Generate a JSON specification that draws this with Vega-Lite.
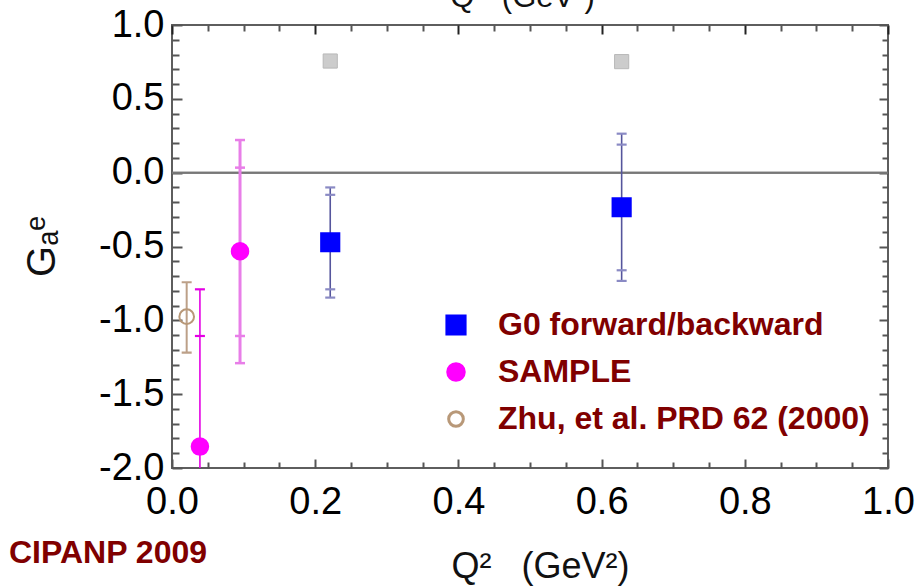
{
  "$schema": "https://vega.github.io/schema/vega-lite/v6.json",
  "width": 716,
  "height": 443,
  "autosize": {"type": "none"},
  "padding": {"left": 172, "top": 25, "right": 32, "bottom": 120},
  "background": "white",
  "config": {
    "view": {"stroke": "#5e5e5e", "strokeWidth": 2},
    "font": "Liberation Sans",
    "axis": {"labelFont": "Liberation Sans", "titleFont": "Liberation Sans", "grid": false, "domain": false}
  },
  "title": {
    "text": "CIPANP 2009",
    "orient": "bottom",
    "anchor": "start",
    "frame": "group",
    "color": "#800000",
    "fontSize": 32,
    "fontWeight": "bold",
    "font": "Liberation Sans",
    "dx": -163,
    "offset": -46
  },
  "datasets": {
    "pts": [
      {"id": "G0-1", "series": "G0 forward/backward", "q2": 0.221, "val": -0.471, "lo_out": -0.846, "lo_in": -0.79, "hi_in": -0.15, "hi_out": -0.10},
      {"id": "G0-2", "series": "G0 forward/backward", "q2": 0.628, "val": -0.234, "lo_out": -0.733, "lo_in": -0.661, "hi_in": 0.19, "hi_out": 0.264},
      {"id": "S-1", "series": "SAMPLE", "q2": 0.039, "val": -1.855, "lo_out": -2.05, "lo_in": null, "hi_in": -1.106, "hi_out": -0.79},
      {"id": "S-2", "series": "SAMPLE", "q2": 0.095, "val": -0.532, "lo_out": -1.29, "lo_in": -1.106, "hi_in": 0.034, "hi_out": 0.221},
      {"id": "Z-1", "series": "Zhu, et al. PRD 62 (2000)", "q2": 0.0205, "val": -0.975, "lo_out": -1.219, "lo_in": null, "hi_in": null, "hi_out": -0.742}
    ],
    "gray": [
      {"q2": 0.221, "val": 0.756},
      {"q2": 0.628, "val": 0.752}
    ]
  },
  "resolve": {"axis": {"x": "independent", "y": "independent"}},
  "layer": [
    {
      "data": {"name": "gray"},
      "mark": {"type": "rule", "color": "#777777", "strokeWidth": 2},
      "encoding": {
        "y": {"datum": 0, "type": "quantitative", "scale": {"domain": [-2, 1], "nice": false, "zero": false}, "axis": null}
      }
    },
    {
      "data": {"name": "pts"},
      "transform": [{"filter": "datum.id === 'G0-1' || datum.id === 'G0-2'"}],
      "mark": {"type": "rule", "color": "#55559c", "strokeWidth": 1.6, "clip": true},
      "encoding": {
        "x": {"field": "q2", "type": "quantitative", "scale": {"domain": [0, 1], "nice": false, "zero": false}, "axis": null},
        "y": {"field": "lo_out", "type": "quantitative", "scale": {"domain": [-2, 1], "nice": false, "zero": false}, "axis": null},
        "y2": {"field": "hi_out"}
      }
    },
    {
      "data": {"name": "pts"},
      "transform": [{"filter": "datum.id === 'S-1'"}],
      "mark": {"type": "rule", "color": "#e400e4", "strokeWidth": 1.6, "clip": true},
      "encoding": {
        "x": {"field": "q2", "type": "quantitative", "scale": {"domain": [0, 1], "nice": false, "zero": false}, "axis": null},
        "y": {"field": "lo_out", "type": "quantitative", "scale": {"domain": [-2, 1], "nice": false, "zero": false}, "axis": null},
        "y2": {"field": "hi_out"}
      }
    },
    {
      "data": {"name": "pts"},
      "transform": [{"filter": "datum.id === 'S-2'"}],
      "mark": {"type": "rule", "color": "#e87ee8", "strokeWidth": 3, "clip": true},
      "encoding": {
        "x": {"field": "q2", "type": "quantitative", "scale": {"domain": [0, 1], "nice": false, "zero": false}, "axis": null},
        "y": {"field": "lo_out", "type": "quantitative", "scale": {"domain": [-2, 1], "nice": false, "zero": false}, "axis": null},
        "y2": {"field": "hi_out"}
      }
    },
    {
      "data": {"name": "pts"},
      "transform": [{"filter": "datum.id === 'Z-1'"}],
      "mark": {"type": "rule", "color": "#bca088", "strokeWidth": 2, "clip": true},
      "encoding": {
        "x": {"field": "q2", "type": "quantitative", "scale": {"domain": [0, 1], "nice": false, "zero": false}, "axis": null},
        "y": {"field": "lo_out", "type": "quantitative", "scale": {"domain": [-2, 1], "nice": false, "zero": false}, "axis": null},
        "y2": {"field": "hi_out"}
      }
    },
    {
      "data": {"name": "pts"},
      "transform": [
        {"filter": "datum.id === 'G0-1' || datum.id === 'G0-2'"},
        {"fold": ["lo_out", "lo_in", "hi_in", "hi_out"], "as": ["k", "v"]},
        {"filter": "datum.v != null"}
      ],
      "mark": {"type": "tick", "orient": "horizontal", "color": "#8a8ac4", "size": 10, "thickness": 2.2, "opacity": 1, "clip": true},
      "encoding": {
        "x": {"field": "q2", "type": "quantitative", "scale": {"domain": [0, 1], "nice": false, "zero": false}, "axis": null},
        "y": {"field": "v", "type": "quantitative", "scale": {"domain": [-2, 1], "nice": false, "zero": false}, "axis": null}
      }
    },
    {
      "data": {"name": "pts"},
      "transform": [
        {"filter": "datum.id === 'S-1'"},
        {"fold": ["lo_out", "lo_in", "hi_in", "hi_out"], "as": ["k", "v"]},
        {"filter": "datum.v != null"}
      ],
      "mark": {"type": "tick", "orient": "horizontal", "color": "#e400e4", "size": 10, "thickness": 2.2, "opacity": 1, "clip": true},
      "encoding": {
        "x": {"field": "q2", "type": "quantitative", "scale": {"domain": [0, 1], "nice": false, "zero": false}, "axis": null},
        "y": {"field": "v", "type": "quantitative", "scale": {"domain": [-2, 1], "nice": false, "zero": false}, "axis": null}
      }
    },
    {
      "data": {"name": "pts"},
      "transform": [
        {"filter": "datum.id === 'S-2'"},
        {"fold": ["lo_out", "lo_in", "hi_in", "hi_out"], "as": ["k", "v"]},
        {"filter": "datum.v != null"}
      ],
      "mark": {"type": "tick", "orient": "horizontal", "color": "#e87ee8", "size": 10, "thickness": 2.5, "opacity": 1, "clip": true},
      "encoding": {
        "x": {"field": "q2", "type": "quantitative", "scale": {"domain": [0, 1], "nice": false, "zero": false}, "axis": null},
        "y": {"field": "v", "type": "quantitative", "scale": {"domain": [-2, 1], "nice": false, "zero": false}, "axis": null}
      }
    },
    {
      "data": {"name": "pts"},
      "transform": [
        {"filter": "datum.id === 'Z-1'"},
        {"fold": ["lo_out", "lo_in", "hi_in", "hi_out"], "as": ["k", "v"]},
        {"filter": "datum.v != null"}
      ],
      "mark": {"type": "tick", "orient": "horizontal", "color": "#bca088", "size": 10, "thickness": 2.2, "opacity": 1, "clip": true},
      "encoding": {
        "x": {"field": "q2", "type": "quantitative", "scale": {"domain": [0, 1], "nice": false, "zero": false}, "axis": null},
        "y": {"field": "v", "type": "quantitative", "scale": {"domain": [-2, 1], "nice": false, "zero": false}, "axis": null}
      }
    },
    {
      "data": {"name": "gray"},
      "mark": {"type": "square", "fill": "#cccccc", "stroke": "#b8b8b8", "strokeWidth": 1, "size": 200, "opacity": 1},
      "encoding": {
        "x": {
          "field": "q2", "type": "quantitative",
          "scale": {"domain": [0, 1], "nice": false, "zero": false},
          "axis": {
            "orient": "top",
            "values": [0, 0.05, 0.1, 0.15, 0.2, 0.25, 0.3, 0.35, 0.4, 0.45, 0.5, 0.55, 0.6, 0.65, 0.7, 0.75, 0.8, 0.85, 0.9, 0.95, 1.0],
            "labels": false,
            "tickSize": {"condition": {"test": "abs(datum.value*5-round(datum.value*5))<0.001", "value": -9}, "value": -6},
            "tickColor": {"condition": {"test": "abs(datum.value*5-round(datum.value*5))<0.001", "value": "#222222"}, "value": "#555555"},
            "tickWidth": 2,
            "title": "Q²\u00a0 (GeV²)",
            "titleFontSize": 31,
            "titleFontWeight": "normal",
            "titleColor": "#111111",
            "titleBaseline": "bottom",
            "titleX": 350,
            "titleY": -12
          }
        },
        "y": {
          "field": "val", "type": "quantitative",
          "scale": {"domain": [-2, 1], "nice": false, "zero": false},
          "axis": {
            "orient": "right",
            "values": [-2.0, -1.9, -1.8, -1.7, -1.6, -1.5, -1.4, -1.3, -1.2, -1.1, -1.0, -0.9, -0.8, -0.7, -0.6, -0.5, -0.4, -0.3, -0.2, -0.1, 0.0, 0.1, 0.2, 0.3, 0.4, 0.5, 0.6, 0.7, 0.8, 0.9, 1.0],
            "labels": false,
            "tickSize": {"condition": {"test": "abs(datum.value*2-round(datum.value*2))<0.001", "value": -9}, "value": -6},
            "tickColor": "#555555",
            "tickWidth": 2,
            "title": null
          }
        }
      }
    },
    {
      "data": {"name": "pts"},
      "mark": {"type": "point", "opacity": 1, "strokeWidth": 2, "filled": false},
      "encoding": {
        "x": {
          "field": "q2", "type": "quantitative",
          "scale": {"domain": [0, 1], "nice": false, "zero": false},
          "axis": {
            "orient": "bottom",
            "values": [0, 0.05, 0.1, 0.15, 0.2, 0.25, 0.3, 0.35, 0.4, 0.45, 0.5, 0.55, 0.6, 0.65, 0.7, 0.75, 0.8, 0.85, 0.9, 0.95, 1.0],
            "labelExpr": "abs(datum.value*5-round(datum.value*5))<0.001 ? format(datum.value, '.1f') : ''",
            "labelFontSize": 38,
            "labelColor": "#000000",
            "labelPadding": 24,
            "labelFlush": false,
            "labelOverlap": false,
            "tickSize": {"condition": {"test": "abs(datum.value*5-round(datum.value*5))<0.001", "value": -9}, "value": -6},
            "tickColor": "#555555",
            "tickWidth": 2,
            "title": "Q²\u00a0\u00a0 (GeV²)",
            "titleFontSize": 36,
            "titleFontWeight": "normal",
            "titleColor": "#111111",
            "titleBaseline": "top",
            "titleX": 368,
            "titleY": 81
          }
        },
        "y": {
          "field": "val", "type": "quantitative",
          "scale": {"domain": [-2, 1], "nice": false, "zero": false},
          "axis": {
            "orient": "left",
            "values": [-2.0, -1.9, -1.8, -1.7, -1.6, -1.5, -1.4, -1.3, -1.2, -1.1, -1.0, -0.9, -0.8, -0.7, -0.6, -0.5, -0.4, -0.3, -0.2, -0.1, 0.0, 0.1, 0.2, 0.3, 0.4, 0.5, 0.6, 0.7, 0.8, 0.9, 1.0],
            "labelExpr": "abs(datum.value*2-round(datum.value*2))<0.001 ? (datum.value < -0.001 ? '-' : '') + format(abs(datum.value), '.1f') : ''",
            "labelFontSize": 38,
            "labelColor": "#000000",
            "labelPadding": 18,
            "labelOverlap": false,
            "tickSize": {"condition": {"test": "abs(datum.value*2-round(datum.value*2))<0.001", "value": -10}, "value": -7},
            "tickColor": "#555555",
            "tickWidth": 2,
            "title": "Gₐᵉ",
            "titleFontSize": 40,
            "titleFontWeight": "normal",
            "titleColor": "#111111",
            "titleBaseline": "bottom",
            "titleAngle": -90,
            "titleX": -110,
            "titleY": 221
          }
        },
        "color": {
          "field": "series", "type": "nominal",
          "scale": {"domain": ["G0 forward/backward", "SAMPLE", "Zhu, et al. PRD 62 (2000)"], "range": ["#0000ff", "#ff00ff", "#b89878"]},
          "legend": {
            "title": null,
            "orient": "none",
            "legendX": 268,
            "legendY": 284,
            "padding": 0,
            "labelFont": "Liberation Sans",
            "labelFontSize": 32,
            "labelFontWeight": "bold",
            "labelColor": "#800000",
            "labelOffset": 26,
            "symbolSize": 280,
            "symbolStrokeWidth": 3,
            "rowPadding": 15,
            "labelLimit": 600,
            "encode": {
              "symbols": {
                "update": {
                  "fill": {"signal": "datum.value === 'SAMPLE' ? '#ff3fc8' : datum.value === 'G0 forward/backward' ? '#0000ff' : 'transparent'"},
                  "stroke": {"signal": "datum.value === 'Zhu, et al. PRD 62 (2000)' ? '#b47a10' : (datum.value === 'SAMPLE' ? '#ff3fc8' : '#0000ff')"}
                }
              }
            }
          }
        },
        "fill": {
          "field": "series", "type": "nominal",
          "scale": {"domain": ["G0 forward/backward", "SAMPLE", "Zhu, et al. PRD 62 (2000)"], "range": ["#0000ff", "#ff00ff", "transparent"]},
          "legend": null
        },
        "shape": {
          "field": "series", "type": "nominal",
          "scale": {"domain": ["G0 forward/backward", "SAMPLE", "Zhu, et al. PRD 62 (2000)"], "range": ["square", "circle", "circle"]},
          "legend": {
            "title": null,
            "orient": "none",
            "legendX": 268,
            "legendY": 284,
            "padding": 0,
            "labelFont": "Liberation Sans",
            "labelFontSize": 32,
            "labelFontWeight": "bold",
            "labelColor": "#800000",
            "labelOffset": 26,
            "symbolSize": 280,
            "symbolStrokeWidth": 3,
            "rowPadding": 15,
            "labelLimit": 600,
            "encode": {
              "symbols": {
                "update": {
                  "fill": {"signal": "datum.value === 'SAMPLE' ? '#ff3fc8' : datum.value === 'G0 forward/backward' ? '#0000ff' : 'transparent'"},
                  "stroke": {"signal": "datum.value === 'Zhu, et al. PRD 62 (2000)' ? '#b47a10' : (datum.value === 'SAMPLE' ? '#ff3fc8' : '#0000ff')"}
                }
              }
            }
          }
        },
        "size": {
          "field": "series", "type": "nominal",
          "scale": {"domain": ["G0 forward/backward", "SAMPLE", "Zhu, et al. PRD 62 (2000)"], "range": [330, 215, 227]},
          "legend": null
        }
      }
    }
  ]
}
